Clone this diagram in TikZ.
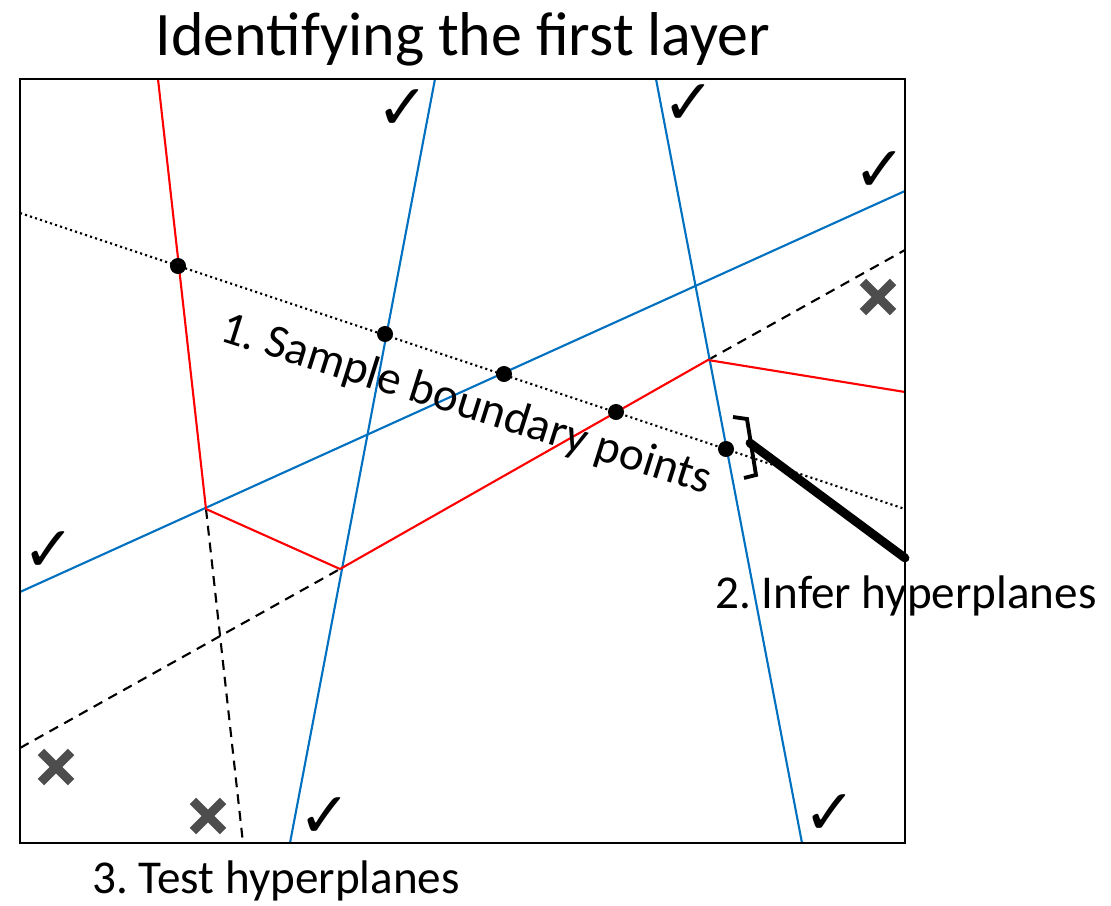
\documentclass[tikz,border=0pt]{standalone}
\usepackage{fontspec}
\setmainfont{Carlito}
\newfontfamily\symbfont{DejaVu Sans}
\usetikzlibrary{shapes.misc}
\definecolor{lineblue}{HTML}{0070C0}
\definecolor{markgray}{HTML}{4D4D4D}
\frenchspacing

\begin{document}
\begin{tikzpicture}[x=0.01cm,y=-0.01cm,
  blueline/.style={lineblue,line width=0.6pt},
  redline/.style={red,line width=0.6pt},
  dashline/.style={line width=0.6pt,dash pattern=on 2.8pt off 2pt},
  dotline/.style={line width=0.6pt,dash pattern=on 0.6pt off 0.9pt},
  okmark/.style={font=\symbfont\fontsize{18}{18}\selectfont,inner sep=0pt},
  badmark/.style={cross out,draw=markgray,line width=2.6pt,minimum size=0.21cm,inner sep=0pt},
  bdot/.style={circle,fill,inner sep=0pt,minimum size=0.16cm},
  label/.style={font=\fontsize{13.4}{15}\selectfont,inner sep=0pt}]

\useasboundingbox (0,0) rectangle (1111,906);

% corners of the region
\coordinate (ka) at (206,509);
\coordinate (kb) at (340,569);
\coordinate (kc) at (708,360);

\draw[dotline] (20,213)--(905,509);
\draw[dashline] (20,748)--(kb);
\draw[dashline] (kc)--(905,250);
\draw[dashline] (ka)--(243,843);
\draw[blueline] (20,592)--(905,191);
\draw[blueline] (435,79)--(290,843);
\draw[blueline] (656,79)--(802,843);
\draw[redline] (158,79)--(ka)--(kb)--(kc)--(905,392);

\draw[line width=0.75pt] (20,79) rectangle (905,843);

\node[bdot] (p1) at (178,266) {};
\node[bdot] (p2) at (385,334) {};
\node[bdot] (p3) at (504,374) {};
\node[bdot] (p4) at (616,412) {};
\node[bdot] (p5) at (726,449) {};

% bracket and pointer
\draw[line width=1.1pt] (733,417)--(747,419)--(756,475)--(744,478);
\draw[line width=2.5pt,line cap=round] (750,443)--(905,558);

\node[okmark] (c1) at (403,110) {✓};
\node[okmark] (c2) at (689,105) {✓};
\node[okmark] (c3) at (880,172) {✓};
\node[okmark] (c4) at (49,552) {✓};
\node[okmark] (c5) at (325,818) {✓};
\node[okmark] (c6) at (830,815) {✓};

\node[badmark] (x1) at (878,297) {};
\node[badmark] (x2) at (56,767) {};
\node[badmark] (x3) at (208,816) {};

\node[font=\fontsize{17.6}{20}\selectfont,inner sep=0pt,anchor=base] (title) at (463,55) {Identifying the first layer};
\node[label,rotate=-17.5] (sample) at (466,405) {1. Sample boundary points};
\node[label,anchor=base] (infer) at (906,608) {2. Infer hyperplanes};
\node[label,anchor=base] (test) at (276,893) {3. Test hyperplanes};

\end{tikzpicture}
\end{document}
